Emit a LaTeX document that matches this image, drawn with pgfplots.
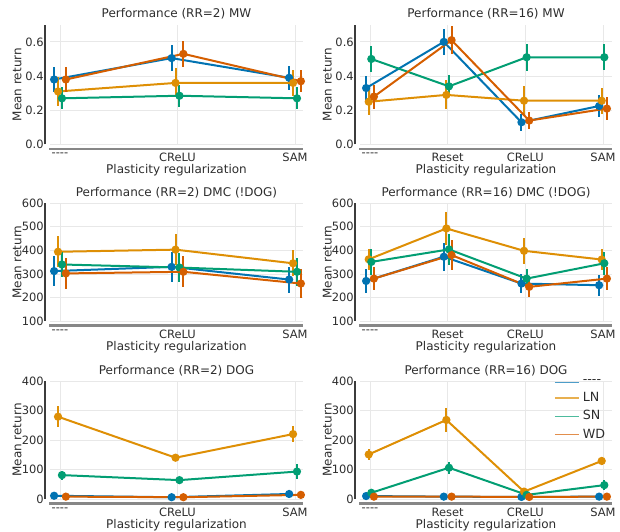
\documentclass[border=0pt]{standalone}
\usepackage{fontspec}
\setmainfont{DejaVu Sans}
\usepackage{pgfplots}
\pgfplotsset{compat=1.18}

% seaborn "colorblind" palette
\definecolor{cBlue}{RGB}{1,115,178}
\definecolor{cOrange}{RGB}{222,143,5}
\definecolor{cGreen}{RGB}{2,158,115}
\definecolor{cRed}{RGB}{213,94,0}
\definecolor{txt}{RGB}{45,45,45}
\definecolor{gridc}{RGB}{232,232,232}
\definecolor{spineL}{RGB}{60,60,60}
\definecolor{spineB}{RGB}{135,135,135}

\newcommand\dashes{\mbox{-}\mbox{-}\mbox{-}\mbox{-}}

\pgfplotsset{
  panel/.style={
    scale only axis, anchor=south west,
    axis line style={draw=none},
    major tick length=0pt, tick style={draw=none},
    grid=major, major grid style={gridc, line width=0.6pt},
    font=\fontsize{9}{10.8}\selectfont,
    every tick label/.append style={font=\fontsize{8.6}{10}\selectfont, text=txt},
    every axis title/.style={at={(0.5,1)}, anchor=center, yshift=8pt,
      font=\fontsize{9}{10.8}\selectfont, text=txt},
    ylabel={Mean return}, xlabel={Plasticity regularization},
    every axis y label/.style={at={(rel axis cs:-0.13,0.5)}, rotate=90, anchor=center,
      text=txt},
    every axis x label/.style={at={(rel axis cs:0.5,0)}, anchor=center,
      yshift=-19.5pt, text=txt},
    yticklabel style={xshift=-1.2pt},
    xticklabel style={yshift=-3pt},
    clip=false,
    after end axis/.code={
      \draw[spineL, line width=1.1pt] ([xshift=-3.75pt]rel axis cs:0,0) -- ([xshift=-3.75pt]rel axis cs:0,1);
      \draw[spineB, line width=1.6pt] ([xshift=-0.5pt,yshift=-3.4pt]rel axis cs:0,0) -- ([yshift=-3.4pt]rel axis cs:1,0);
    },
  },
  three/.style={width=189.75pt, xmin=-0.085, xmax=2.068, xtick={0,1,2},
    xticklabels={\dashes, CReLU, SAM}},
  four/.style={width=189pt, xmin=-0.129, xmax=3.116, xtick={0,1,2,3},
    xticklabels={\dashes, Reset, CReLU, SAM}},
  rowA/.style={height=89.8pt, ymin=0, ymax=0.7, ytick={0,0.2,0.4,0.6},
    yticklabels={0.0,0.2,0.4,0.6}},
  rowB/.style={height=88.3pt, ymin=100, ymax=600, ytick={100,200,300,400,500,600},
    yticklabels={100,200,300,400,500,600}},
  rowC/.style={height=88.5pt, ymin=0, ymax=400, ytick={0,100,200,300,400},
    yticklabels={0,100,200,300,400}},
  ser/.style={color=#1, mark=*, mark size=2.3pt, line width=1.5pt,
    mark options={solid, fill=#1},
    error bars/y dir=both, error bars/y explicit, error bars/error mark=none,
    error bars/error bar style={line width=1.5pt, color=#1}, forget plot},
}

\begin{document}
\begin{tikzpicture}
\useasboundingbox (0,0) rectangle (465pt,398.25pt);

% ---------------- MW, RR=2 ----------------
\begin{axis}[panel, three, rowA, at={(37.5pt,289.875pt)},
  title={Performance (RR=2) MW}]
\addplot[ser=cBlue] coordinates {(-0.05,0.38) +- (0,0.075) (0.95,0.505) +- (0,0.075) (1.95,0.39) +- (0,0.07)};
\addplot[ser=cOrange] coordinates {(-0.0167,0.31) +- (0,0.085) (0.9833,0.36) +- (0,0.085) (1.9833,0.36) +- (0,0.075)};
\addplot[ser=cGreen] coordinates {(0.0167,0.27) +- (0,0.065) (1.0167,0.285) +- (0,0.065) (2.0167,0.27) +- (0,0.065)};
\addplot[ser=cRed] coordinates {(0.05,0.38) +- (0,0.075) (1.05,0.53) +- (0,0.075) (2.05,0.37) +- (0,0.065)};
\end{axis}

% ---------------- MW, RR=16 ----------------
\begin{axis}[panel, four, rowA, at={(270pt,289.875pt)},
  title={Performance (RR=16) MW}]
\addplot[ser=cBlue] coordinates {(-0.05,0.33) +- (0,0.07) (0.95,0.60) +- (0,0.075) (1.95,0.13) +- (0,0.05) (2.95,0.225) +- (0,0.065)};
\addplot[ser=cOrange] coordinates {(-0.0167,0.25) +- (0,0.08) (0.9833,0.29) +- (0,0.085) (1.9833,0.256) +- (0,0.085) (2.9833,0.256) +- (0,0.075)};
\addplot[ser=cGreen] coordinates {(0.0167,0.50) +- (0,0.075) (1.0167,0.34) +- (0,0.065) (2.0167,0.51) +- (0,0.08) (3.0167,0.51) +- (0,0.075)};
\addplot[ser=cRed] coordinates {(0.05,0.28) +- (0,0.07) (1.05,0.61) +- (0,0.08) (2.05,0.14) +- (0,0.05) (3.05,0.21) +- (0,0.065)};
\end{axis}

% ---------------- DMC, RR=2 ----------------
\begin{axis}[panel, three, rowB, at={(37.5pt,157.5pt)},
  title={Performance (RR=2) DMC (!DOG)}]
\addplot[ser=cBlue] coordinates {(-0.05,312) +- (0,62) (0.95,330) +- (0,65) (1.95,276) +- (0,55)};
\addplot[ser=cOrange] coordinates {(-0.0167,394) +- (0,65) (0.9833,403) +- (0,65) (1.9833,345) +- (0,55)};
\addplot[ser=cGreen] coordinates {(0.0167,340) +- (0,55) (1.0167,327) +- (0,60) (2.0167,309) +- (0,60)};
\addplot[ser=cRed] coordinates {(0.05,302) +- (0,65) (1.05,309) +- (0,65) (2.05,259) +- (0,60)};
\end{axis}

% ---------------- DMC, RR=16 ----------------
\begin{axis}[panel, four, rowB, at={(270pt,157.5pt)},
  title={Performance (RR=16) DMC (!DOG)}]
\addplot[ser=cBlue] coordinates {(-0.05,270) +- (0,50) (0.95,373) +- (0,60) (1.95,259) +- (0,40) (2.95,252) +- (0,45)};
\addplot[ser=cOrange] coordinates {(-0.0167,362) +- (0,45) (0.9833,493) +- (0,70) (1.9833,398) +- (0,55) (2.9833,361) +- (0,45)};
\addplot[ser=cGreen] coordinates {(0.0167,351) +- (0,55) (1.0167,404) +- (0,65) (2.0167,280) +- (0,40) (3.0167,345) +- (0,50)};
\addplot[ser=cRed] coordinates {(0.05,280) +- (0,50) (1.05,380) +- (0,65) (2.05,245) +- (0,45) (3.05,280) +- (0,50)};
\end{axis}

% ---------------- DOG, RR=2 ----------------
\begin{axis}[panel, three, rowC, at={(37.5pt,24pt)},
  title={Performance (RR=2) DOG}]
\addplot[ser=cBlue] coordinates {(-0.05,11) +- (0,3) (0.95,6) +- (0,2) (1.95,17) +- (0,3)};
\addplot[ser=cOrange] coordinates {(-0.0167,279) +- (0,35) (0.9833,140) +- (0,12) (1.9833,220) +- (0,28)};
\addplot[ser=cGreen] coordinates {(0.0167,81) +- (0,15) (1.0167,64) +- (0,12) (2.0167,93) +- (0,25)};
\addplot[ser=cRed] coordinates {(0.05,8) +- (0,2) (1.05,6) +- (0,2) (2.05,14) +- (0,3)};
\end{axis}

% ---------------- DOG, RR=16 ----------------
\begin{axis}[panel, four, rowC, at={(270pt,24pt)},
  title={Performance (RR=16) DOG},
  legend cell align=left,
  legend style={at={(1.0,1.06)}, anchor=north east, draw=none, fill=none,
    row sep=1.2pt, font=\fontsize{9.5}{11}\selectfont, text=txt},
  legend image code/.code={\draw[#1] (0pt,0pt) -- (18.5pt,0pt);}]
\addlegendimage{cBlue, line width=1pt, opacity=0.7}
\addlegendimage{cOrange, line width=1pt, opacity=0.7}
\addlegendimage{cGreen, line width=1pt, opacity=0.7}
\addlegendimage{cRed, line width=1pt, opacity=0.7}
\addplot[ser=cBlue] coordinates {(-0.05,10) +- (0,2) (0.95,8) +- (0,2) (1.95,7) +- (0,2) (2.95,8) +- (0,2)};
\addplot[ser=cOrange] coordinates {(-0.0167,151) +- (0,20) (0.9833,268) +- (0,40) (1.9833,25) +- (0,8) (2.9833,129) +- (0,15)};
\addplot[ser=cGreen] coordinates {(0.0167,21) +- (0,8) (1.0167,106) +- (0,20) (2.0167,14) +- (0,5) (3.0167,47) +- (0,18)};
\addplot[ser=cRed] coordinates {(0.05,8) +- (0,2) (1.05,8) +- (0,2) (2.05,7) +- (0,2) (3.05,8) +- (0,2)};
\legend{\dashes, LN, SN, WD}
\end{axis}
\end{tikzpicture}
\end{document}
